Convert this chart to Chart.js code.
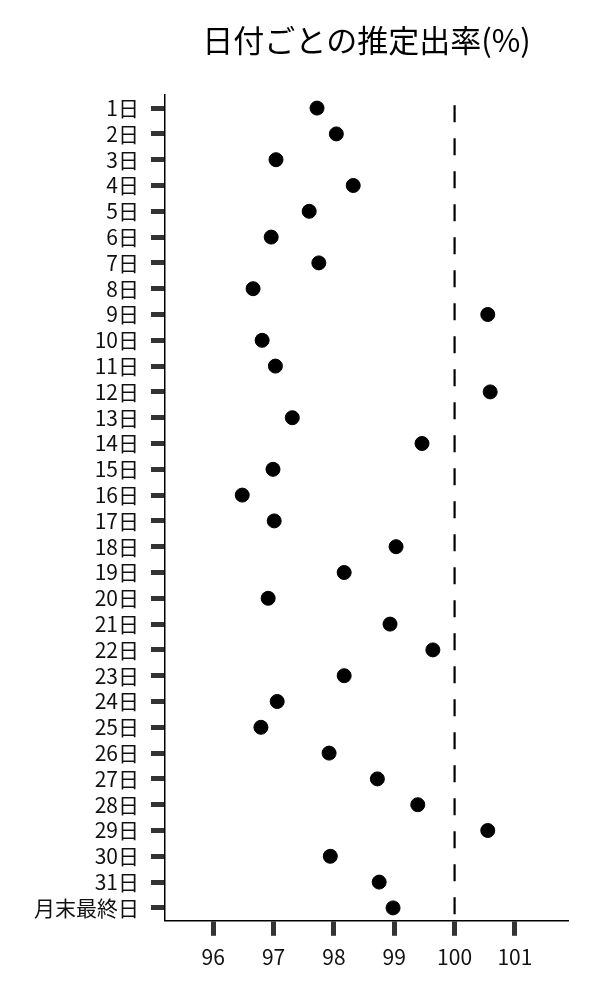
<!DOCTYPE html>
<html lang="ja">
<head>
<meta charset="utf-8">
<script src="https://cdn.jsdelivr.net/npm/chart.js@4/dist/chart.umd.min.js"></script>
<style>
  html, body { margin: 0; padding: 0; background: #fff; }
  #wrap { width: 600px; height: 1000px; }
</style>
</head>
<body>
<div id="wrap"><canvas id="graphique"></canvas></div>
<script>
// Jours (axe vertical, de haut en bas)
const jours = ['1日', '2日', '3日', '4日', '5日', '6日', '7日', '8日', '9日', '10日',
  '11日', '12日', '13日', '14日', '15日', '16日', '17日', '18日', '19日', '20日',
  '21日', '22日', '23日', '24日', '25日', '26日', '27日', '28日', '29日', '30日',
  '31日', '月末最終日'];

// Taux estimé (%)
const taux = [97.72, 98.04, 97.04, 98.32, 97.59, 96.96, 97.75, 96.66, 100.55, 96.81,
  97.03, 100.59, 97.31, 99.46, 96.99, 96.48, 97.01, 99.03, 98.17, 96.91,
  98.93, 99.64, 98.17, 97.06, 96.79, 97.92, 98.72, 99.39, 100.55, 97.94,
  98.75, 98.98];

const graduationsX = [96, 97, 98, 99, 100, 101];
const reference = 100;

const POLICE = '"Noto Sans CJK JP", "Noto Sans", sans-serif';

// Ligne verticale en pointillés sur la valeur de référence
const ligneReference = {
  id: 'ligneReference',
  afterDatasetsDraw(chart) {
    const { ctx, chartArea, scales } = chart;
    const x = scales.x.getPixelForValue(reference);
    ctx.save();
    ctx.strokeStyle = '#000';
    ctx.lineWidth = 2.2;
    ctx.setLineDash([17, 16]);
    ctx.lineDashOffset = -10;
    ctx.beginPath();
    ctx.moveTo(x, chartArea.top);
    ctx.lineTo(x, chartArea.bottom);
    ctx.stroke();
    ctx.restore();
  }
};

new Chart(document.getElementById('graphique'), {
  type: 'scatter',
  data: {
    datasets: [{
      data: jours.map((j, i) => ({ x: taux[i], y: j })),
      backgroundColor: '#000',
      borderColor: '#000',
      pointRadius: 7,
      pointHoverRadius: 7
    }]
  },
  options: {
    responsive: true,
    maintainAspectRatio: false,
    animation: false,
    layout: { padding: { left: 34, right: 32, top: 10, bottom: 21 } },
    plugins: {
      legend: { display: false },
      tooltip: { enabled: false },
      title: {
        display: true,
        text: '日付ごとの推定出率(%)',
        fullSize: false,
        color: '#000',
        font: { family: POLICE, size: 31, weight: 'normal' },
        padding: { top: 12, bottom: 36 }
      }
    },
    scales: {
      x: {
        type: 'linear',
        min: 95.2,
        max: 101.88,
        afterBuildTicks: scale => { scale.ticks = graduationsX.map(v => ({ value: v })); },
        border: { color: '#000', width: 1.5 },
        grid: { drawOnChartArea: false, tickLength: 15, tickWidth: 5, tickColor: '#333' },
        ticks: { color: '#111', padding: 9, font: { family: POLICE, size: 21 } }
      },
      y: {
        type: 'category',
        labels: jours,
        offset: true,
        afterFit: scale => { scale.width = 131; },
        border: { color: '#000', width: 1.5 },
        grid: { drawOnChartArea: false, tickLength: 14, tickWidth: 5, tickColor: '#333' },
        ticks: { color: '#111', padding: 12, autoSkip: false, font: { family: POLICE, size: 21 } }
      }
    }
  },
  plugins: [ligneReference]
});
</script>
</body>
</html>
